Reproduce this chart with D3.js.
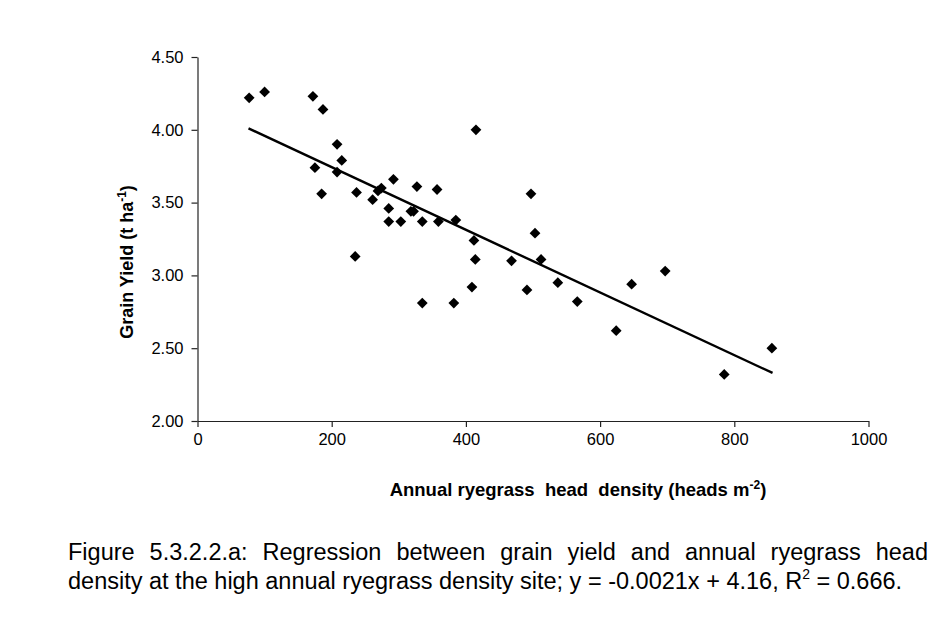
<!DOCTYPE html>
<html>
<head>
<meta charset="utf-8">
<script src="https://cdn.jsdelivr.net/npm/d3@7"></script>
<style>
  body { margin: 0; background: #fff; }
  text { font-family: "Liberation Sans", Arial, sans-serif; fill: #000; }
</style>
</head>
<body>
<div id="chart"></div>
<script>
// head density (heads m-2) and grain yield (t ha-1)
const density = [77, 100, 172, 187, 208, 215, 175, 208, 185, 237, 261, 269, 274,
  292, 327, 357, 285, 285, 303, 318, 322, 335, 359, 385, 412, 414, 235, 409,
  335, 382, 497, 503, 512, 468, 537, 491, 566, 647, 697, 624, 785, 856, 415];
const grainYield = [4.22, 4.26, 4.23, 4.14, 3.90, 3.79, 3.74, 3.71, 3.56, 3.57,
  3.52, 3.58, 3.60, 3.66, 3.61, 3.59, 3.46, 3.37, 3.37, 3.44, 3.44, 3.37, 3.37,
  3.38, 3.24, 3.11, 3.13, 2.92, 2.81, 2.81, 3.56, 3.29, 3.11, 3.10, 2.95, 2.90,
  2.82, 2.94, 3.03, 2.62, 2.32, 2.50, 4.00];

// fitted line end points as drawn
const trendX = [76, 857];
const trendY = [4.01, 2.33];

const xTicks = [0, 200, 400, 600, 800, 1000];
const yTicks = [2.0, 2.5, 3.0, 3.5, 4.0, 4.5];

const captionLine1 = "Figure 5.3.2.2.a: Regression between grain yield and annual ryegrass head";

const W = 950, H = 636;
const svg = d3.select("#chart").append("svg")
  .attr("width", W)
  .attr("height", H);

const x = d3.scaleLinear().domain([0, 1000]).range([197.5, 868.5]);
const y = d3.scaleLinear().domain([2, 4.5]).range([421, 57]);

// axes
const xAxis = d3.axisBottom(x).tickValues(xTicks).tickSize(6).tickSizeOuter(0)
  .tickFormat(d3.format("d"));
const gx = svg.append("g")
  .attr("transform", "translate(0," + y(2) + ")")
  .call(xAxis);

const yAxis = d3.axisLeft(y).tickValues(yTicks).tickSize(6).tickSizeOuter(0)
  .tickFormat(d3.format(".2f"));
const gy = svg.append("g")
  .attr("transform", "translate(" + x(0) + ",0)")
  .call(yAxis);

[gx, gy].forEach(g => {
  g.select(".domain").attr("stroke", "#222").attr("stroke-width", 1.2);
  g.selectAll(".tick line").attr("stroke", "#222").attr("stroke-width", 1.2);
  g.selectAll(".tick text")
    .style("font-family", "'Liberation Sans', Arial, sans-serif")
    .style("font-size", "16.5px")
    .attr("fill", "#000");
});
gx.selectAll(".tick text").attr("y", 12);
gy.selectAll(".tick text").attr("x", -14);

// points
const pts = density.map((d, i) => [d, grainYield[i]]);
const diamond = d3.symbol().type(d3.symbolSquare).size(58);
svg.append("g")
  .selectAll("path")
  .data(pts)
  .enter()
  .append("path")
  .attr("d", diamond)
  .attr("transform", d => "translate(" + x(d[0]) + "," + y(d[1]) + ") rotate(45)")
  .attr("fill", "#000");

// regression line
svg.append("line")
  .attr("x1", x(trendX[0])).attr("y1", y(trendY[0]))
  .attr("x2", x(trendX[1])).attr("y2", y(trendY[1]))
  .attr("stroke", "#000")
  .attr("stroke-width", 2.4);

// axis titles
const yt = svg.append("text")
  .attr("transform", "translate(133,262) rotate(-90)")
  .attr("text-anchor", "middle")
  .style("font-size", "18px")
  .style("font-weight", "bold");
yt.append("tspan").text("Grain Yield (t ha");
yt.append("tspan").text("-1").attr("dy", -7).style("font-size", "12px");
yt.append("tspan").text(")").attr("dy", 7);

const xt = svg.append("text")
  .attr("x", 578).attr("y", 496)
  .attr("text-anchor", "middle")
  .style("font-size", "18.5px")
  .style("font-weight", "bold")
  .style("white-space", "pre");
xt.append("tspan").text("Annual ryegrass  head  density (heads m");
xt.append("tspan").text("-2").attr("dy", -7).style("font-size", "12px");
xt.append("tspan").text(")").attr("dy", 7);

// caption: first line justified
const capLeft = 68, capRight = 928, capSize = "23.5px";
const words = captionLine1.split(" ");
const cap = svg.append("g").style("font-size", capSize);
const wordNodes = words.map(w => cap.append("text").attr("y", 560).text(w));
const widths = wordNodes.map(n => n.node().getComputedTextLength());
const gap = (capRight - capLeft - d3.sum(widths)) / (words.length - 1);
let cx = capLeft;
wordNodes.forEach((n, i) => {
  n.attr("x", cx);
  cx += widths[i] + gap;
});

const l2 = svg.append("text")
  .attr("x", capLeft).attr("y", 589)
  .style("font-size", capSize);
l2.append("tspan").text("density at the high annual ryegrass density site; y = -0.0021x + 4.16, R");
l2.append("tspan").text("2").attr("dy", -10).style("font-size", "14px");
l2.append("tspan").text(" = 0.666.").attr("dy", 10);
</script>
</body>
</html>
